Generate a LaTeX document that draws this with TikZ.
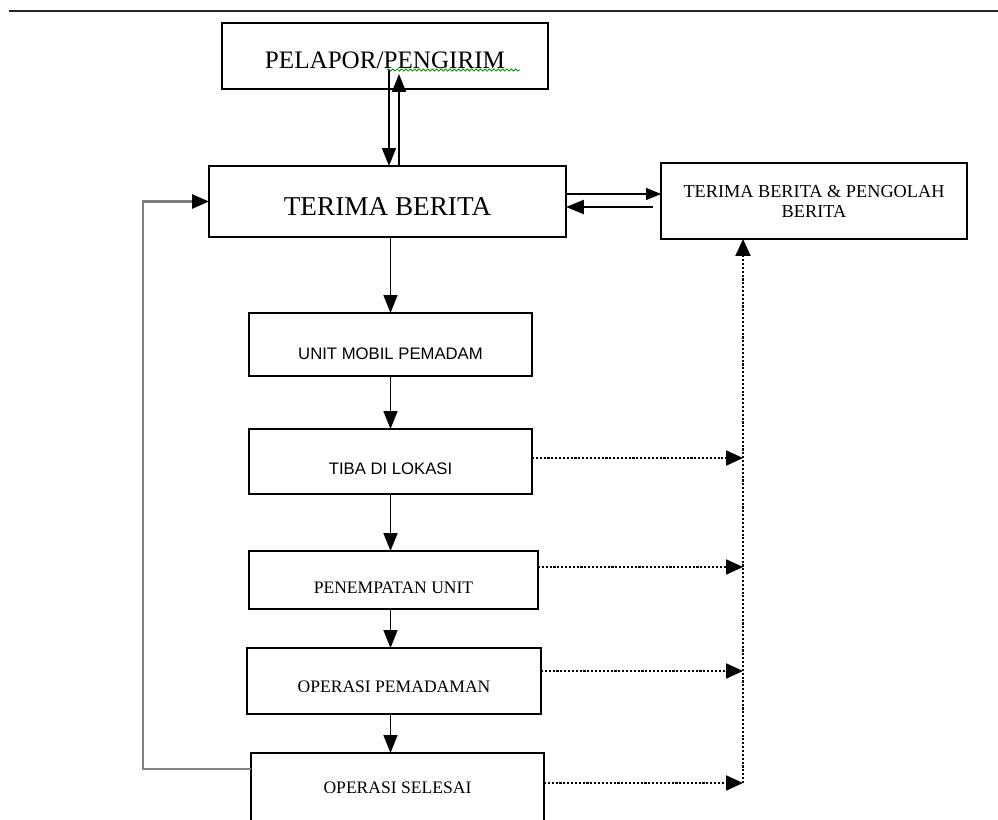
\documentclass[tikz,border=0pt]{standalone}
\usepackage{fontspec}
\setmainfont{Liberation Serif}
\setsansfont{Liberation Sans}
\usetikzlibrary{arrows.meta,decorations.pathmorphing}

\begin{document}
\begin{tikzpicture}[x=0.02cm, y=-0.02cm,
	box/.style={draw, line width=1.1pt, inner sep=0pt, outer sep=0pt, align=center, text depth=0pt},
	arr/.style={line width=1pt, -{Triangle[length=0.36cm, width=0.28cm]}},
	thinarr/.style={line width=0.6pt, -{Triangle[length=0.3cm, width=0.24cm]}},
	dotarr/.style={densely dotted, line width=1.2pt, -{Triangle[length=0.34cm, width=0.3cm]}},
	backline/.style={black!50, line width=1.5pt, -{Triangle[length=0.34cm, width=0.28cm, color=black]}}]
		\useasboundingbox (0,0) rectangle (998,819);
		\clip (0,0) rectangle (998,819);
		\draw [line width=1.3pt, black!85] (9,11) -- (998,11);
		\node [box, minimum width=6.52cm, minimum height=1.32cm, text height=0.49cm, font=\fontsize{14.3pt}{17pt}\selectfont] (pelapor) at (385,56) {PELAPOR/PENGIRIM};
		\draw [green!60!black, line width=0.5pt, decorate, decoration={snake, amplitude=0.6pt, segment length=2.5pt}] (387,70) -- (520,70);
		\node [box, minimum width=7.14cm, minimum height=1.42cm, text height=0.54cm, font=\fontsize{15.5pt}{18pt}\selectfont] (terima) at (387.5,201.5) {TERIMA BERITA};
		\node [box, minimum width=6.12cm, minimum height=1.52cm, font=\fontsize{10.4pt}{11.4pt}\selectfont] (olah) at (814,201) {TERIMA BERITA \& PENGOLAH\\BERITA};
		\node [box, minimum width=5.66cm, minimum height=1.26cm, text height=0.58cm, font=\sffamily\fontsize{9.5pt}{11pt}\selectfont] (unit) at (390.5,344.5) {UNIT MOBIL PEMADAM};
		\node [box, minimum width=5.66cm, minimum height=1.30cm, text height=0.50cm, font=\sffamily\fontsize{9.5pt}{11pt}\selectfont] (tiba) at (390.5,461.5) {TIBA DI LOKASI};
		\node [box, minimum width=5.78cm, minimum height=1.16cm, text height=0.55cm, font=\fontsize{10pt}{12pt}\selectfont] (tempat) at (393.5,580) {PENEMPATAN UNIT};
		\node [box, minimum width=5.88cm, minimum height=1.32cm, text height=0.47cm, font=\fontsize{10pt}{12pt}\selectfont] (padam) at (394,681) {OPERASI PEMADAMAN};
		\node [box, minimum width=5.86cm, minimum height=1.40cm, text height=0.23cm, font=\fontsize{10pt}{12pt}\selectfont] (selesai) at (397.5,788) {OPERASI SELESAI};
		\coordinate (pd) at ([xshift=0.08cm, yshift=0.38cm]pelapor.south);
		\coordinate (pu) at ([xshift=0.28cm, yshift=0.30cm]pelapor.south);
		\draw [arr] (pd) -- (pd |- terima.north);
		\draw [arr] (pu |- terima.north) -- (pu);
		\coordinate (ta) at ([yshift=0.15cm]terima.east);
		\coordinate (tb) at ([xshift=-0.16cm, yshift=-0.12cm]olah.west);
		\draw [thinarr] (ta) -- (ta -| olah.west);
		\draw [arr, line width=1.3pt] (tb) -- (tb -| terima.east);
		\draw [arr] (terima.south -| unit.north) -- (unit.north);
		\draw [arr] (unit.south) -- (tiba.north);
		\draw [arr] (tiba.south) -- (tiba.south |- tempat.north);
		\draw [arr] (tempat.south -| tiba) -- (padam.north -| tiba);
		\draw [arr] (padam.south -| tiba) -- (selesai.north -| tiba);
		\coordinate (bus) at ([xshift=-1.42cm]olah.south);
		\foreach \n/\s in {tiba/0.07, tempat/0.26, padam/0.2, selesai/0.1}{
			\coordinate (\n-r) at ([yshift=\s cm]\n.east);
			\draw [dotarr] (\n-r) -- (\n-r -| bus);
		}
		\draw [dotarr] (selesai-r -| bus) -- (bus);
		\draw [backline] ([yshift=0.38cm]selesai.west) -| ([xshift=-1.32cm]terima.west) -- (terima.west);
\end{tikzpicture}
\end{document}
